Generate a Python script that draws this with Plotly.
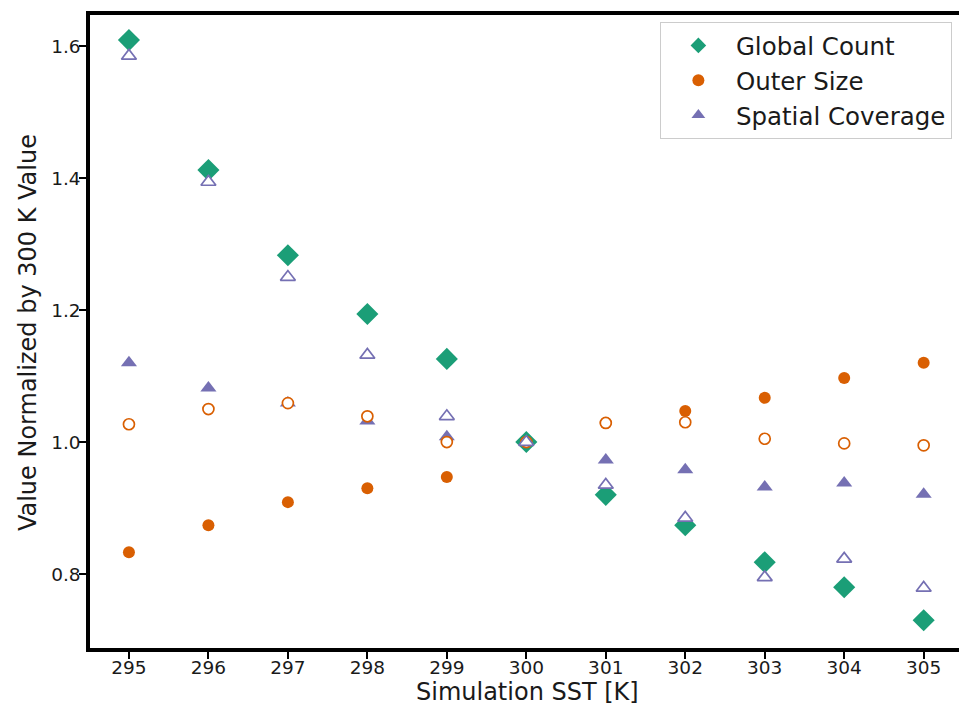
import plotly.graph_objects as go

sst = [295, 296, 297, 298, 299, 300, 301, 302, 303, 304, 305]

global_count = [1.609, 1.412, 1.283, 1.194, 1.126, 1.0, 0.920, 0.874, 0.818, 0.780, 0.730]
outer_size = [0.833, 0.874, 0.909, 0.930, 0.947, 1.0, 1.029, 1.047, 1.067, 1.097, 1.120]
spatial_coverage = [1.120, 1.082, 1.059, 1.032, 1.008, 1.0, 0.973, 0.958, 0.932, 0.938, 0.921]

outer_size_alt = [1.027, 1.050, 1.059, 1.039, 1.000, 1.0, 1.029, 1.030, 1.005, 0.998, 0.995]
spatial_coverage_alt = [1.585, 1.394, 1.250, 1.132, 1.039, 1.0, 0.935, 0.885, 0.795, 0.823, 0.779]

x_ticks = [295, 296, 297, 298, 299, 300, 301, 302, 303, 304, 305]
y_ticks = [0.8, 1.0, 1.2, 1.4, 1.6]
y_tick_labels = ["0.8", "1.0", "1.2", "1.4", "1.6"]

GREEN = "#1b9e77"
ORANGE = "#d95f02"
PURPLE = "#7570b3"

fig = go.Figure()

fig.add_trace(go.Scatter(
    x=sst, y=global_count, mode="markers", name="Global Count",
    marker=dict(symbol="diamond", size=17, color=GREEN, line=dict(width=0)),
))
fig.add_trace(go.Scatter(
    x=sst, y=outer_size, mode="markers", name="Outer Size",
    marker=dict(symbol="circle", size=12, color=ORANGE, line=dict(width=0)),
))
fig.add_trace(go.Scatter(
    x=sst, y=spatial_coverage, mode="markers", name="Spatial Coverage",
    marker=dict(symbol="triangle-up", size=14, color=PURPLE, line=dict(width=0)),
))
fig.add_trace(go.Scatter(
    x=sst, y=outer_size_alt, mode="markers", showlegend=False,
    marker=dict(symbol="circle", size=11, color="white", line=dict(width=1.7, color=ORANGE)),
))
fig.add_trace(go.Scatter(
    x=sst, y=spatial_coverage_alt, mode="markers", showlegend=False,
    marker=dict(symbol="triangle-up", size=13, color="white", line=dict(width=1.7, color=PURPLE)),
))

axis_common = dict(
    showline=True, linecolor="black", linewidth=3.5, mirror=True,
    ticks="outside", ticklen=7, tickwidth=1.5, tickcolor="black",
    showgrid=False, zeroline=False, automargin=False,
    tickfont=dict(family="DejaVu Sans", size=18.5, color="#1a1a1a"),
)

fig.update_layout(
    width=967, height=710,
    paper_bgcolor="white", plot_bgcolor="white",
    margin=dict(l=82, r=10, t=7, b=70),
    font=dict(family="DejaVu Sans", color="#1a1a1a"),
    xaxis=dict(
        range=[294.51, 305.52], tickvals=x_ticks, ticklabelstandoff=-7,
        **axis_common,
    ),
    yaxis=dict(
        range=[0.688, 1.647], tickvals=y_ticks, ticktext=y_tick_labels,
        ticklabelstandoff=-5,
        **axis_common,
    ),
    legend=dict(
        x=0.985, y=0.989, xanchor="right", yanchor="top",
        bgcolor="white", bordercolor="#cccccc", borderwidth=1,
        font=dict(size=24.5, color="#1a1a1a"),
        itemsizing="constant", itemwidth=65,
    ),
    annotations=[
        dict(
            text="Simulation SST [K]", xref="paper", yref="paper",
            x=0.5, y=-0.0695, xanchor="center", yanchor="middle",
            showarrow=False, font=dict(size=24, color="#1a1a1a"),
        ),
        dict(
            text="Value Normalized by 300 K Value", xref="paper", yref="paper",
            x=-0.0709, y=0.499, xanchor="center", yanchor="middle", textangle=-90,
            showarrow=False, font=dict(size=24, color="#1a1a1a"),
        ),
    ],
)

fig.write_html("out.html")
